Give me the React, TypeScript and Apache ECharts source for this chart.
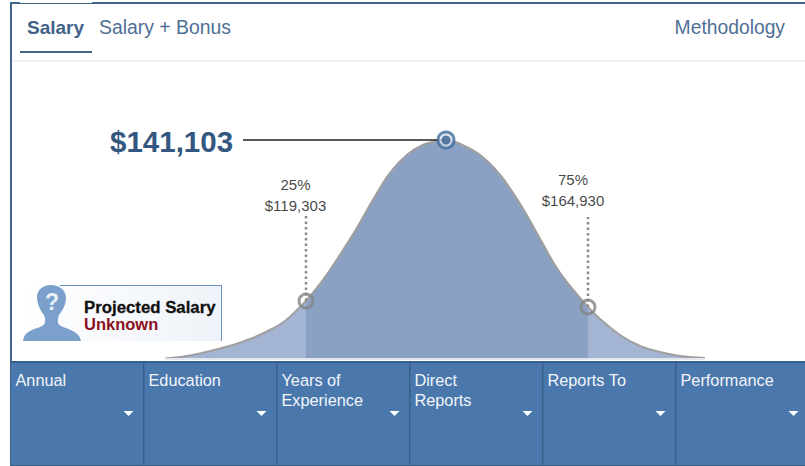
import React, { useEffect, useRef } from "react";
import * as echarts from "echarts";

const curveX = [165,180,200,233,250,267,285,300,306,323,340,357,373,390,407,423,437,446,460,480,500,520,540,560,588,600,620,640,660,680,705];
const curveY = [0.5,2,5.5,14,20,27.5,38,52,58,79,104,131,159,186,204,214,218,219,215,204,184,155,120,86,52,40,24,13,7,3,1];
const midStart = 306;
const midEnd = 588;
const medianPoint = [446, 219];
const medianLabel = "$141,103";
const leaderFrom = 243;
const quartiles = [
  { pct: "25%", salary: "$119,303", x: 306, y: 58, top: 174, labelX: 295.5, dotTop: 214 },
  { pct: "75%", salary: "$164,930", x: 588, y: 52, top: 169, labelX: 573, dotTop: 217 },
];
const tabs = ["Salary", "Salary + Bonus"];
const linkLabel = "Methodology";
const filters = ["Annual", "Education", "Years of\nExperience", "Direct\nReports", "Reports To", "Performance"];

const FONT = '"Liberation Sans", Arial, sans-serif';
const BLUE = "#3f6389";
const PANEL = "#4a78ad";
const PANEL_LINE = "#38608c";

const GX = 165;
const GB = 359;

export default function App() {
  const ref = useRef<HTMLDivElement>(null);
  useEffect(() => {
    document.body.style.margin = "0";
    echarts.graphic.registerShape(
      "person",
      echarts.graphic.extendPath(
        "M23 341 C24 333 30 330 40 327 C46 325 46 320 44 315 C39 309 37 302 37 297 C37 289 44 285 51 285 C59 285 66 290 66 298 C66 304 63 310 59 315 C57 320 57 325 63 327 C73 330 80 334 81 341 Z",
        {}
      )
    );
    const chart = echarts.init(ref.current!, null, { renderer: "svg" });

    const pts = curveX.map((x, i) => [x - GX, curveY[i]]);
    const mid = pts.filter((p) => p[0] + GX >= midStart && p[0] + GX <= midEnd);

    const graphics: any[] = [
      { type: "rect", shape: { x: 10, y: 2, width: 795, height: 2 }, style: { fill: BLUE }, silent: true },
      { type: "rect", shape: { x: 20, y: 2, width: 72, height: 1 }, style: { fill: "#ffffff" }, silent: true },
      { type: "rect", shape: { x: 10, y: 2, width: 2, height: 360 }, style: { fill: BLUE }, silent: true },
      { type: "rect", shape: { x: 12, y: 60, width: 793, height: 1.5 }, style: { fill: "#eeeeee" }, silent: true },
      { type: "rect", shape: { x: 20, y: 51, width: 72, height: 2 }, style: { fill: BLUE }, silent: true },
      { type: "text", x: 27, y: 27, style: { text: tabs[0], font: `bold 19px ${FONT}`, fill: BLUE, verticalAlign: "middle" } },
      { type: "text", x: 99, y: 27, style: { text: tabs[1], font: `19.4px ${FONT}`, fill: "#4f6f96", verticalAlign: "middle" } },
      { type: "text", x: 785, y: 27, style: { text: linkLabel, font: `19.3px ${FONT}`, fill: "#4f6f96", align: "right", verticalAlign: "middle" } },
      { type: "text", x: 110, y: 141, style: { text: medianLabel, font: `bold 29.5px ${FONT}`, fill: "#34577f", verticalAlign: "middle" } },
      // unknown badge
      { type: "rect", shape: { x: 23, y: 285, width: 199, height: 56 }, style: { fill: new echarts.graphic.LinearGradient(0, 0, 1, 0, [{ offset: 0, color: "#ffffff" }, { offset: 1, color: "#eef3f9" }]) } },
      { type: "rect", shape: { x: 60, y: 285, width: 162, height: 1 }, style: { fill: "#6d94bf" } },
      { type: "rect", shape: { x: 221, y: 285, width: 1, height: 56 }, style: { fill: "#6d94bf" } },
      { type: "person", x: 0, y: 0, style: { fill: "#7aa0cb" } },
      { type: "text", x: 52, y: 302, style: { text: "?", font: `bold 23px ${FONT}`, fill: "#e8f0f8", align: "center", verticalAlign: "middle" } },
      { type: "text", x: 84, y: 307, style: { text: "Projected Salary", font: `bold 16.8px ${FONT}`, fill: "#111111", verticalAlign: "middle", stroke: "#111111", lineWidth: 0.3 } },
      { type: "text", x: 84, y: 324, style: { text: "Unknown", font: `bold 16.5px ${FONT}`, fill: "#8c1020", verticalAlign: "middle" } },
      // filter panel
      { type: "rect", shape: { x: 10, y: 362, width: 795, height: 104 }, style: { fill: PANEL } },
      { type: "rect", shape: { x: 10, y: 361, width: 795, height: 2 }, style: { fill: PANEL_LINE } },
      { type: "rect", shape: { x: 10, y: 465, width: 795, height: 1 }, style: { fill: PANEL_LINE } },
      { type: "rect", shape: { x: 10, y: 362, width: 1, height: 104 }, style: { fill: PANEL_LINE } },
    ];
    filters.forEach((name, i) => {
      const left = 10 + i * 133;
      if (i > 0) graphics.push({ type: "rect", shape: { x: left, y: 362, width: 1.5, height: 104 }, style: { fill: PANEL_LINE } });
      graphics.push({ type: "text", x: left + 5.5, y: 370.5, style: { text: name, font: `16.3px ${FONT}`, fill: "#f2f5f9", lineHeight: 19.5, verticalAlign: "top" } });
      const cx = left + 118.5;
      graphics.push({ type: "polygon", shape: { points: [[cx - 5, 411], [cx + 5, 411], [cx, 416]] }, style: { fill: "#ffffff" } });
    });

    const dotted = quartiles.map((q) => ({
      type: "line", silent: true, symbol: "none", z: 4,
      data: [[q.x - GX, q.y], [q.x - GX, GB - q.dotTop]],
      lineStyle: { color: "#8a8a8a", width: 2.5, type: [2.5, 3] },
    }));

    chart.setOption({
      animation: false,
      graphic: { elements: graphics },
      grid: { left: GX, top: 139, width: 540, height: 220 },
      xAxis: { type: "value", min: 0, max: 540, show: false },
      yAxis: { type: "value", min: 0, max: 220, show: false },
      series: [
        {
          type: "line", data: pts, symbol: "none", z: 2, smooth: 0.4,
          lineStyle: { color: "#a0a0a0", width: 2 },
          areaStyle: { color: "#a3b5d2", opacity: 1 },
        },
        {
          type: "line", data: mid, symbol: "none", z: 3, smooth: 0.4,
          lineStyle: { color: "#a0a0a0", width: 2 },
          areaStyle: { color: "#8aa1c4", opacity: 1 },
        },
        {
          type: "line", data: [[0, 0], [540, 0]], symbol: "none", z: 3,
          lineStyle: { color: "#e4e7ee", width: 2 },
        },
        ...dotted,
        {
          type: "line", data: [[leaderFrom - GX, medianPoint[1]], [medianPoint[0] - GX, medianPoint[1]]], symbol: "none", z: 4,
          lineStyle: { color: "#222222", width: 1.5 },
        },
        {
          type: "scatter", z: 5, symbol: "circle", symbolSize: 14,
          data: quartiles.map((q) => [q.x - GX, q.y]),
          itemStyle: { color: "rgba(255,255,255,0)", borderColor: "#858585", borderWidth: 3 },
        },
        {
          type: "scatter", z: 5, symbol: "circle", symbolSize: 16,
          data: [[medianPoint[0] - GX, medianPoint[1]]],
          itemStyle: { color: "#dde4ee", borderColor: "#3f6b9c", borderWidth: 3 },
        },
        {
          type: "scatter", z: 6, symbol: "circle", symbolSize: 9,
          data: [[medianPoint[0] - GX, medianPoint[1]]],
          itemStyle: { color: "#34608f" },
        },
        {
          type: "scatter", z: 6, symbolSize: 0,
          data: quartiles.map((q) => ({
            value: [q.labelX - GX, GB - q.top],
            label: {
              show: true, position: "inside", formatter: `${q.pct}\n${q.salary}`,
              color: "#111111", fontSize: 15, fontFamily: FONT, lineHeight: 21, align: "center",
              verticalAlign: "top",
            },
          })),
        },
      ],
    });
    return () => chart.dispose();
  }, []);
  return <div ref={ref} style={{ width: 805, height: 466, position: "absolute", left: 0, top: 0 }} />;
}
